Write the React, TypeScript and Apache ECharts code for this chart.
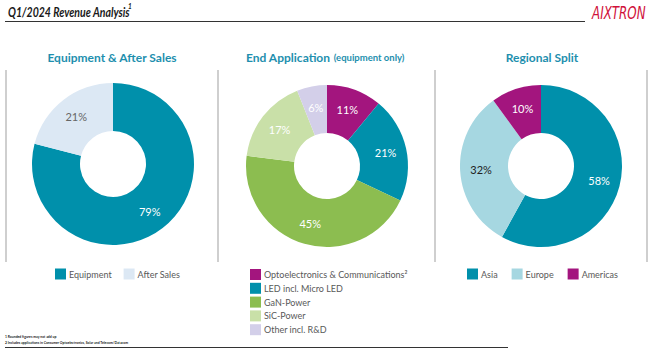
import React, { useEffect, useRef } from "react";
import * as echarts from "echarts";

const FONT = "Lato, 'Open Sans', sans-serif";

const splitNames = ["Equipment", "After Sales"];
const splitValues = [79, 21];

const appNames = [
  "Optoelectronics & Communications²",
  "LED incl. Micro LED",
  "GaN-Power",
  "SiC-Power",
  "Other incl. R&D",
];
const appValues = [11, 21, 45, 17, 6];

const regionNames = ["Asia", "Europe", "Americas"];
const regionValues = [58, 32, 10];

const panelTitles = ["Equipment & After Sales", "End Application", "Regional Split"];
const footnotes = [
  "1 Rounded figures may not add up",
  "2 Includes applications in Consumer Optoelectronics, Solar and Telecom/Datacom",
];

const TEAL = "#0090ab";
const MAGENTA = "#a3157e";
const TITLE_COLOR = "#1e8fae";
const splitColors = [TEAL, "#dce8f4"];
const splitLabelColors = ["#ffffff", "#666666"];
const appColors = [MAGENTA, TEAL, "#8cbd50", "#c9e0a8", "#d3cfe9"];
const appLabelColors = ["#ffffff", "#ffffff", "#ffffff", "#ffffff", "#ffffff"];
const regionColors = [TEAL, "#a6d7e1", MAGENTA];
const regionLabelColors = ["#ffffff", "#222222", "#ffffff"];

function pieSeries(
  names: string[],
  values: number[],
  colors: string[],
  labelColors: string[],
  center: [number, number]
) {
  return {
    type: "pie",
    center,
    radius: [33, 81],
    startAngle: 90,
    clockwise: true,
    avoidLabelOverlap: false,
    silent: true,
    label: {
      show: true,
      position: "inside",
      formatter: "{c}%",
      fontFamily: FONT,
      fontSize: 11,
    },
    labelLine: { show: false },
    itemStyle: { borderWidth: 0 },
    data: names.map((n, i) => ({
      name: n,
      value: values[i],
      itemStyle: { color: colors[i] },
      label: { color: labelColors[i] },
    })),
  };
}

export default function App() {
  const ref = useRef<HTMLDivElement>(null);
  useEffect(() => {
    if (!ref.current) return;
    const chart = echarts.init(ref.current, null, { renderer: "svg" });
    const legendText = { fontFamily: FONT, fontSize: 9, color: "#595959", padding: [0, 0, 0, -2] };
    const sepStyle = { stroke: "#bfbfbf", lineWidth: 1.5 };
    const titleStyle = (x: number, text: string) => ({
      type: "text",
      x,
      y: 57,
      style: {
        text,
        fill: TITLE_COLOR,
        font: `bold 12px ${FONT}`,
        align: "center",
        verticalAlign: "middle",
      },
    });
    chart.setOption({
      animation: false,
      backgroundColor: "#ffffff",
      legend: [
        {
          data: splitNames,
          left: 50,
          top: 263.5,
          orient: "horizontal",
          icon: "rect",
          itemWidth: 11,
          itemHeight: 11,
          itemGap: 12,
          textStyle: legendText,
          selectedMode: false,
        },
        {
          data: appNames,
          left: 245,
          top: 264,
          orient: "vertical",
          icon: "rect",
          itemWidth: 11,
          itemHeight: 11,
          itemGap: 2.8,
          textStyle: legendText,
          selectedMode: false,
        },
        {
          data: regionNames,
          left: 462,
          top: 263.5,
          orient: "horizontal",
          icon: "rect",
          itemWidth: 11,
          itemHeight: 11,
          itemGap: 14,
          textStyle: legendText,
          selectedMode: false,
        },
      ],
      series: [
        pieSeries(splitNames, splitValues, splitColors, splitLabelColors, [113, 164]),
        pieSeries(appNames, appValues, appColors, appLabelColors, [327, 166]),
        pieSeries(regionNames, regionValues, regionColors, regionLabelColors, [541, 166]),
      ],
      graphic: [
        {
          type: "text",
          x: 8,
          y: 12,
          scaleX: 0.78,
          style: {
            text: "Q1/2024 Revenue Analysis",
            fill: "#1a1a1a",
            font: `italic bold 13.5px ${FONT}`,
            verticalAlign: "middle",
          },
        },
        {
          type: "text",
          x: 128,
          y: 6.5,
          style: {
            text: "1",
            fill: "#1a1a1a",
            font: `italic bold 6.5px ${FONT}`,
            verticalAlign: "middle",
          },
        },
        {
          type: "line",
          shape: { x1: 5, y1: 21.5, x2: 585, y2: 21.5 },
          style: { stroke: "#333333", lineWidth: 1.2 },
        },
        {
          type: "text",
          x: 592,
          y: 13,
          scaleX: 0.7,
          style: {
            text: "AIXTRON",
            fill: "#d0103a",
            font: `italic 17px 'DejaVu Sans', sans-serif`,
            verticalAlign: "middle",
          },
        },
        titleStyle(112, panelTitles[0]),
        {
          type: "text",
          x: 246,
          y: 57,
          style: {
            text: "{a|" + panelTitles[1] + "} {b|(equipment only)}",
            verticalAlign: "middle",
            fill: TITLE_COLOR,
            rich: {
              a: { fill: TITLE_COLOR, fontWeight: "bold", fontSize: 12, fontFamily: FONT },
              b: { fill: TITLE_COLOR, fontWeight: "bold", fontSize: 9.5, fontFamily: FONT },
            },
          },
        },
        titleStyle(542, panelTitles[2]),
        { type: "line", shape: { x1: 6, y1: 70, x2: 6, y2: 262 }, style: sepStyle },
        { type: "line", shape: { x1: 218, y1: 70, x2: 218, y2: 262 }, style: sepStyle },
        { type: "line", shape: { x1: 435, y1: 70, x2: 435, y2: 262 }, style: sepStyle },
        { type: "line", shape: { x1: 647, y1: 70, x2: 647, y2: 262 }, style: sepStyle },
        {
          type: "text",
          x: 5,
          y: 337,
          style: { text: footnotes[0], fill: "#222", font: `bold 3.4px ${FONT}`, verticalAlign: "middle" },
        },
        {
          type: "text",
          x: 5,
          y: 343,
          style: { text: footnotes[1], fill: "#222", font: `bold 3.4px ${FONT}`, verticalAlign: "middle" },
        },
        {
          type: "line",
          shape: { x1: 5, y1: 347.5, x2: 508, y2: 347.5 },
          style: { stroke: "#333333", lineWidth: 1 },
        },
      ],
    });
    return () => chart.dispose();
  }, []);
  return (
    <div
      ref={ref}
      style={{ position: "fixed", left: 0, top: 0, width: 666, height: 352 }}
    />
  );
}
